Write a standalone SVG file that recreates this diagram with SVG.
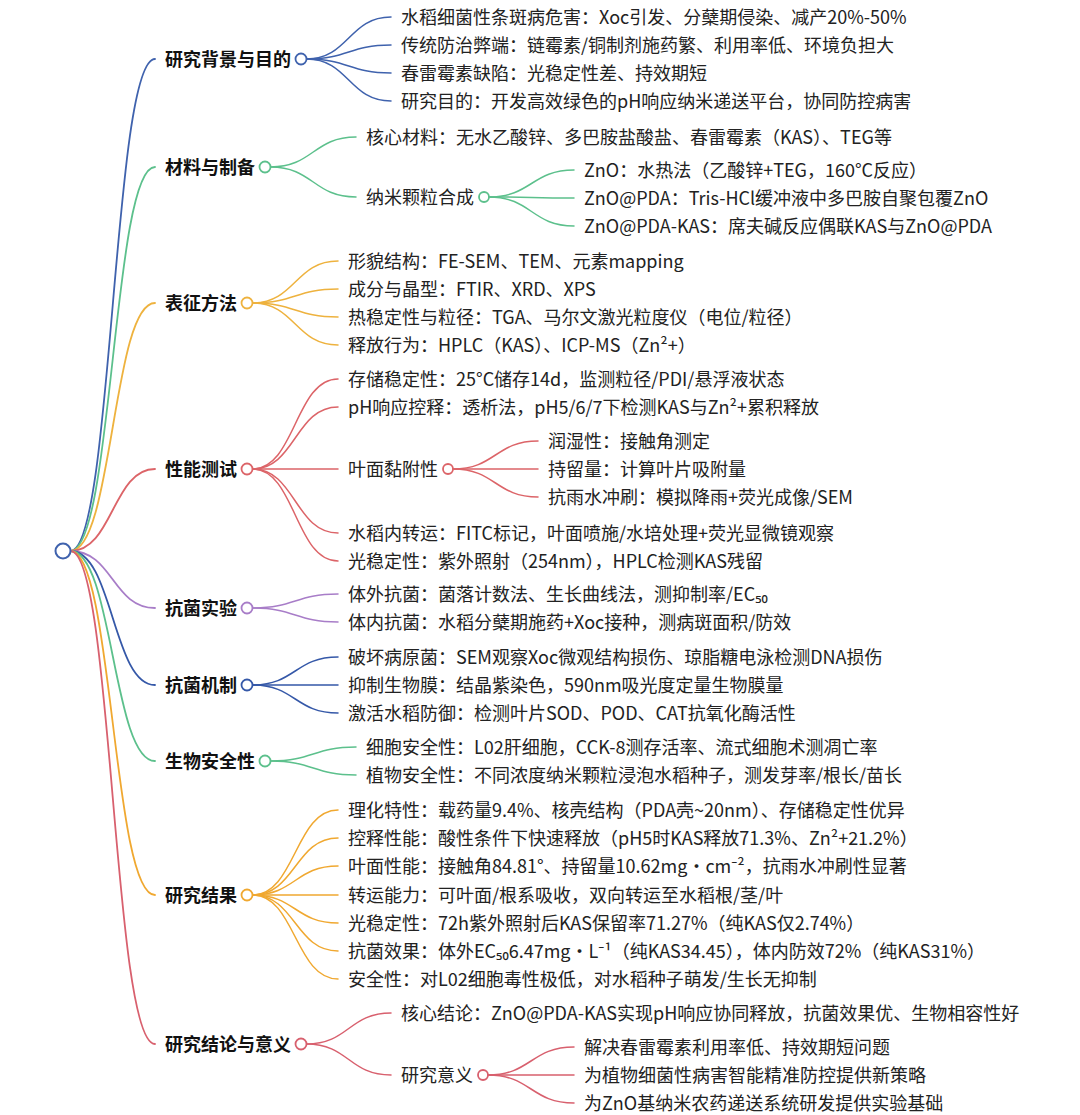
<svg xmlns="http://www.w3.org/2000/svg" width="1080" height="1115" viewBox="0 0 1080 1115">
<style>
text{font-family:"Noto Sans CJK SC","Noto Sans",sans-serif;font-size:18px;fill:#222}
.b{font-weight:bold;fill:#111}
path{fill:none;stroke-linecap:round}
.l1{stroke-width:1.8}
.l2{stroke-width:1.5}
circle{fill:#fff;stroke-width:1.8}
.blue{stroke:#3f62ad}
.green{stroke:#5cc08c}
.gold{stroke:#eeb23e}
.red{stroke:#dc6468}
.purple{stroke:#a87dc8}
.navy{stroke:#3558a8}
.orange{stroke:#f0a830}
.rose{stroke:#d8606e}
</style>
<g id="connectors">
<path class="l1 blue" d="M70.5 551 C112.75 551 112.75 59 155 59"/>
<path class="l1 green" d="M70.5 551 C112.75 551 112.75 167 155 167"/>
<path class="l1 gold" d="M70.5 551 C112.75 551 112.75 303 155 303"/>
<path class="l1 red" d="M70.5 551 C112.75 551 112.75 469 155 469"/>
<path class="l1 purple" d="M70.5 551 C112.75 551 112.75 608 155 608"/>
<path class="l1 navy" d="M70.5 551 C112.75 551 112.75 685 155 685"/>
<path class="l1 green" d="M70.5 551 C112.75 551 112.75 761 155 761"/>
<path class="l1 orange" d="M70.5 551 C112.75 551 112.75 895 155 895"/>
<path class="l1 rose" d="M70.5 551 C112.75 551 112.75 1044 155 1044"/>
<path class="l2 blue" d="M306.5 59 C348.75 59 348.75 17 391 17"/>
<path class="l2 blue" d="M306.5 59 C348.75 59 348.75 45 391 45"/>
<path class="l2 blue" d="M306.5 59 C348.75 59 348.75 73 391 73"/>
<path class="l2 blue" d="M306.5 59 C348.75 59 348.75 101 391 101"/>
<path class="l2 green" d="M270.5 167 C313.25 167 313.25 137 356 137"/>
<path class="l2 green" d="M270.5 167 C313.25 167 313.25 197 356 197"/>
<path class="l2 green" d="M489 197 C531.5 197 531.5 170 574 170"/>
<path class="l2 green" d="M489 197 C531.5 197 531.5 198 574 198"/>
<path class="l2 green" d="M489 197 C531.5 197 531.5 226 574 226"/>
<path class="l2 gold" d="M252.5 303 C295.25 303 295.25 261 338 261"/>
<path class="l2 gold" d="M252.5 303 C295.25 303 295.25 289 338 289"/>
<path class="l2 gold" d="M252.5 303 C295.25 303 295.25 317 338 317"/>
<path class="l2 gold" d="M252.5 303 C295.25 303 295.25 345 338 345"/>
<path class="l2 red" d="M252.5 469 C295.25 469 295.25 379 338 379"/>
<path class="l2 red" d="M252.5 469 C295.25 469 295.25 407 338 407"/>
<path class="l2 red" d="M252.5 469 C295.25 469 295.25 469 338 469"/>
<path class="l2 red" d="M252.5 469 C295.25 469 295.25 533 338 533"/>
<path class="l2 red" d="M252.5 469 C295.25 469 295.25 561 338 561"/>
<path class="l2 red" d="M453 469 C495.5 469 495.5 441 538 441"/>
<path class="l2 red" d="M453 469 C495.5 469 495.5 469 538 469"/>
<path class="l2 red" d="M453 469 C495.5 469 495.5 497 538 497"/>
<path class="l2 purple" d="M252.5 608 C295.25 608 295.25 594 338 594"/>
<path class="l2 purple" d="M252.5 608 C295.25 608 295.25 622 338 622"/>
<path class="l2 navy" d="M252.5 685 C295.25 685 295.25 657 338 657"/>
<path class="l2 navy" d="M252.5 685 C295.25 685 295.25 685 338 685"/>
<path class="l2 navy" d="M252.5 685 C295.25 685 295.25 713 338 713"/>
<path class="l2 green" d="M270.5 761 C313.25 761 313.25 747 356 747"/>
<path class="l2 green" d="M270.5 761 C313.25 761 313.25 775 356 775"/>
<path class="l2 orange" d="M252.5 895 C295.25 895 295.25 810 338 810"/>
<path class="l2 orange" d="M252.5 895 C295.25 895 295.25 838 338 838"/>
<path class="l2 orange" d="M252.5 895 C295.25 895 295.25 866 338 866"/>
<path class="l2 orange" d="M252.5 895 C295.25 895 295.25 895 338 895"/>
<path class="l2 orange" d="M252.5 895 C295.25 895 295.25 923 338 923"/>
<path class="l2 orange" d="M252.5 895 C295.25 895 295.25 951 338 951"/>
<path class="l2 orange" d="M252.5 895 C295.25 895 295.25 979 338 979"/>
<path class="l2 rose" d="M306.5 1044 C348.75 1044 348.75 1013 391 1013"/>
<path class="l2 rose" d="M306.5 1044 C348.75 1044 348.75 1075 391 1075"/>
<path class="l2 rose" d="M488 1075 C531 1075 531 1047 574 1047"/>
<path class="l2 rose" d="M488 1075 C531 1075 531 1075 574 1075"/>
<path class="l2 rose" d="M488 1075 C531 1075 531 1103 574 1103"/>
</g>
<g id="root"><circle class="blue" cx="63" cy="551" r="7.5" style="stroke-width:2"/></g>
<g id="n1"><text class="b" x="165" y="65.5">研究背景与目的</text><circle class="blue" cx="301" cy="59" r="5.5"/></g>
<g id="n1a"><text x="401" y="23.5">水稻细菌性条斑病危害：Xoc引发、分蘖期侵染、减产20%-50%</text></g>
<g id="n1b"><text x="401" y="51.5">传统防治弊端：链霉素/铜制剂施药繁、利用率低、环境负担大</text></g>
<g id="n1c"><text x="401" y="79.5">春雷霉素缺陷：光稳定性差、持效期短</text></g>
<g id="n1d"><text x="401" y="107.5">研究目的：开发高效绿色的pH响应纳米递送平台，协同防控病害</text></g>
<g id="n2"><text class="b" x="165" y="173.5">材料与制备</text><circle class="green" cx="265" cy="167" r="5.5"/></g>
<g id="n2a"><text x="366" y="143.5">核心材料：无水乙酸锌、多巴胺盐酸盐、春雷霉素（KAS）、TEG等</text></g>
<g id="n2b"><text x="366" y="203.5">纳米颗粒合成</text><circle class="green" cx="484" cy="197" r="5"/></g>
<g id="n2b1"><text x="584" y="176.5">ZnO：水热法（乙酸锌+TEG，160°C反应）</text></g>
<g id="n2b2"><text x="584" y="204.5">ZnO@PDA：Tris-HCl缓冲液中多巴胺自聚包覆ZnO</text></g>
<g id="n2b3"><text x="584" y="232.5">ZnO@PDA-KAS：席夫碱反应偶联KAS与ZnO@PDA</text></g>
<g id="n3"><text class="b" x="165" y="309.5">表征方法</text><circle class="gold" cx="247" cy="303" r="5.5"/></g>
<g id="n3a"><text x="348" y="267.5">形貌结构：FE-SEM、TEM、元素mapping</text></g>
<g id="n3b"><text x="348" y="295.5">成分与晶型：FTIR、XRD、XPS</text></g>
<g id="n3c"><text x="348" y="323.5">热稳定性与粒径：TGA、马尔文激光粒度仪（电位/粒径）</text></g>
<g id="n3d"><text x="348" y="351.5">释放行为：HPLC（KAS）、ICP-MS（Zn²+）</text></g>
<g id="n4"><text class="b" x="165" y="475.5">性能测试</text><circle class="red" cx="247" cy="469" r="5.5"/></g>
<g id="n4a"><text x="348" y="385.5">存储稳定性：25°C储存14d，监测粒径/PDI/悬浮液状态</text></g>
<g id="n4b"><text x="348" y="413.5">pH响应控释：透析法，pH5/6/7下检测KAS与Zn²+累积释放</text></g>
<g id="n4c"><text x="348" y="475.5">叶面黏附性</text><circle class="red" cx="448" cy="469" r="5"/></g>
<g id="n4c1"><text x="548" y="447.5">润湿性：接触角测定</text></g>
<g id="n4c2"><text x="548" y="475.5">持留量：计算叶片吸附量</text></g>
<g id="n4c3"><text x="548" y="503.5">抗雨水冲刷：模拟降雨+荧光成像/SEM</text></g>
<g id="n4d"><text x="348" y="539.5">水稻内转运：FITC标记，叶面喷施/水培处理+荧光显微镜观察</text></g>
<g id="n4e"><text x="348" y="567.5">光稳定性：紫外照射（254nm），HPLC检测KAS残留</text></g>
<g id="n5"><text class="b" x="165" y="614.5">抗菌实验</text><circle class="purple" cx="247" cy="608" r="5.5"/></g>
<g id="n5a"><text x="348" y="600.5">体外抗菌：菌落计数法、生长曲线法，测抑制率/EC₅₀</text></g>
<g id="n5b"><text x="348" y="628.5">体内抗菌：水稻分蘖期施药+Xoc接种，测病斑面积/防效</text></g>
<g id="n6"><text class="b" x="165" y="691.5">抗菌机制</text><circle class="navy" cx="247" cy="685" r="5.5"/></g>
<g id="n6a"><text x="348" y="663.5">破坏病原菌：SEM观察Xoc微观结构损伤、琼脂糖电泳检测DNA损伤</text></g>
<g id="n6b"><text x="348" y="691.5">抑制生物膜：结晶紫染色，590nm吸光度定量生物膜量</text></g>
<g id="n6c"><text x="348" y="719.5">激活水稻防御：检测叶片SOD、POD、CAT抗氧化酶活性</text></g>
<g id="n7"><text class="b" x="165" y="767.5">生物安全性</text><circle class="green" cx="265" cy="761" r="5.5"/></g>
<g id="n7a"><text x="366" y="753.5">细胞安全性：L02肝细胞，CCK-8测存活率、流式细胞术测凋亡率</text></g>
<g id="n7b"><text x="366" y="781.5">植物安全性：不同浓度纳米颗粒浸泡水稻种子，测发芽率/根长/苗长</text></g>
<g id="n8"><text class="b" x="165" y="901.5">研究结果</text><circle class="orange" cx="247" cy="895" r="5.5"/></g>
<g id="n8a"><text x="348" y="816.5">理化特性：载药量9.4%、核壳结构（PDA壳~20nm）、存储稳定性优异</text></g>
<g id="n8b"><text x="348" y="844.5">控释性能：酸性条件下快速释放（pH5时KAS释放71.3%、Zn²+21.2%）</text></g>
<g id="n8c"><text x="348" y="872.5">叶面性能：接触角84.81°、持留量10.62mg・cm⁻²，抗雨水冲刷性显著</text></g>
<g id="n8d"><text x="348" y="901.5">转运能力：可叶面/根系吸收，双向转运至水稻根/茎/叶</text></g>
<g id="n8e"><text x="348" y="929.5">光稳定性：72h紫外照射后KAS保留率71.27%（纯KAS仅2.74%）</text></g>
<g id="n8f"><text x="348" y="957.5">抗菌效果：体外EC₅₀6.47mg・L⁻¹（纯KAS34.45），体内防效72%（纯KAS31%）</text></g>
<g id="n8g"><text x="348" y="985.5">安全性：对L02细胞毒性极低，对水稻种子萌发/生长无抑制</text></g>
<g id="n9"><text class="b" x="165" y="1050.5">研究结论与意义</text><circle class="rose" cx="301" cy="1044" r="5.5"/></g>
<g id="n9a"><text x="401" y="1019.5">核心结论：ZnO@PDA-KAS实现pH响应协同释放，抗菌效果优、生物相容性好</text></g>
<g id="n9b"><text x="401" y="1081.5">研究意义</text><circle class="rose" cx="483" cy="1075" r="5"/></g>
<g id="n9b1"><text x="584" y="1053.5">解决春雷霉素利用率低、持效期短问题</text></g>
<g id="n9b2"><text x="584" y="1081.5">为植物细菌性病害智能精准防控提供新策略</text></g>
<g id="n9b3"><text x="584" y="1109.5">为ZnO基纳米农药递送系统研发提供实验基础</text></g>
</svg>
